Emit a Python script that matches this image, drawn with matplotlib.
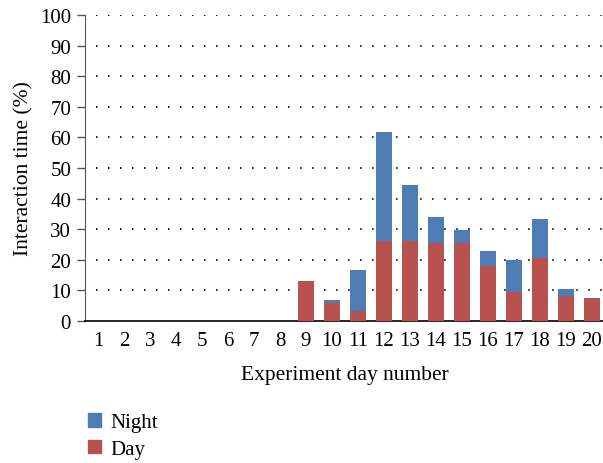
import matplotlib
matplotlib.use("Agg")
import matplotlib.pyplot as plt
from matplotlib.patches import Patch

days = list(range(1, 21))
day_vals = [0, 0, 0, 0, 0, 0, 0, 0, 13.0, 5.9, 3.3, 26.1, 26.1, 25.4, 25.4, 17.9, 9.4, 20.5, 8.1, 7.4]
total_vals = [0, 0, 0, 0, 0, 0, 0, 0, 13.0, 6.8, 16.6, 61.7, 44.3, 33.9, 29.6, 22.8, 19.8, 33.2, 10.3, 7.4]
night_vals = [t - d for t, d in zip(total_vals, day_vals)]
yticks = list(range(0, 101, 10))

blue = "#4E7CB5"
red = "#B8504E"

plt.rcParams['font.family'] = ['Liberation Serif', 'DejaVu Serif']

fig = plt.figure(figsize=(6.03, 4.64), dpi=100)
W, H = 603, 464
ax = fig.add_axes([85 / W, (H - 322) / H, 520 / W, 306 / H])

ax.bar(days, day_vals, width=0.59, color=red, zorder=3)
ax.bar(days, night_vals, bottom=day_vals, width=0.59, color=blue, zorder=3)

ax.set_xlim(0.5, 20.5)
ax.set_ylim(0, 100)
ax.set_yticks(yticks)
ax.set_xticks(days)
ax.tick_params(axis='x', length=0, labelsize=15, pad=7)
ax.tick_params(axis='y', length=6, width=1, direction='out', labelsize=15, pad=4, color='#555555')

for y in yticks[1:]:
    ax.axhline(y, color='black', linewidth=1.3, linestyle=(0, (0.8, 5.85)), zorder=1, xmin=0.022)

for s in ['top', 'right']:
    ax.spines[s].set_visible(False)
ax.spines['left'].set_color('#555555')
ax.spines['bottom'].set_color('black')
ax.spines['bottom'].set_linewidth(1.2)

ax.set_xlabel("Experiment day number", fontsize=15.5, labelpad=11)
ax.set_ylabel("Interaction time (%)", fontsize=15.5, labelpad=5)

handles = [Patch(color=blue, label='Night'), Patch(color=red, label='Day')]
fig.legend(handles=handles, loc='upper left', bbox_to_anchor=(80 / W, 1 - 406 / H),
           frameon=False, fontsize=15, handlelength=0.6, handleheight=0.6,
           handletextpad=0.45, labelspacing=0.35, borderaxespad=0)

fig.savefig("out.png", dpi=100)
